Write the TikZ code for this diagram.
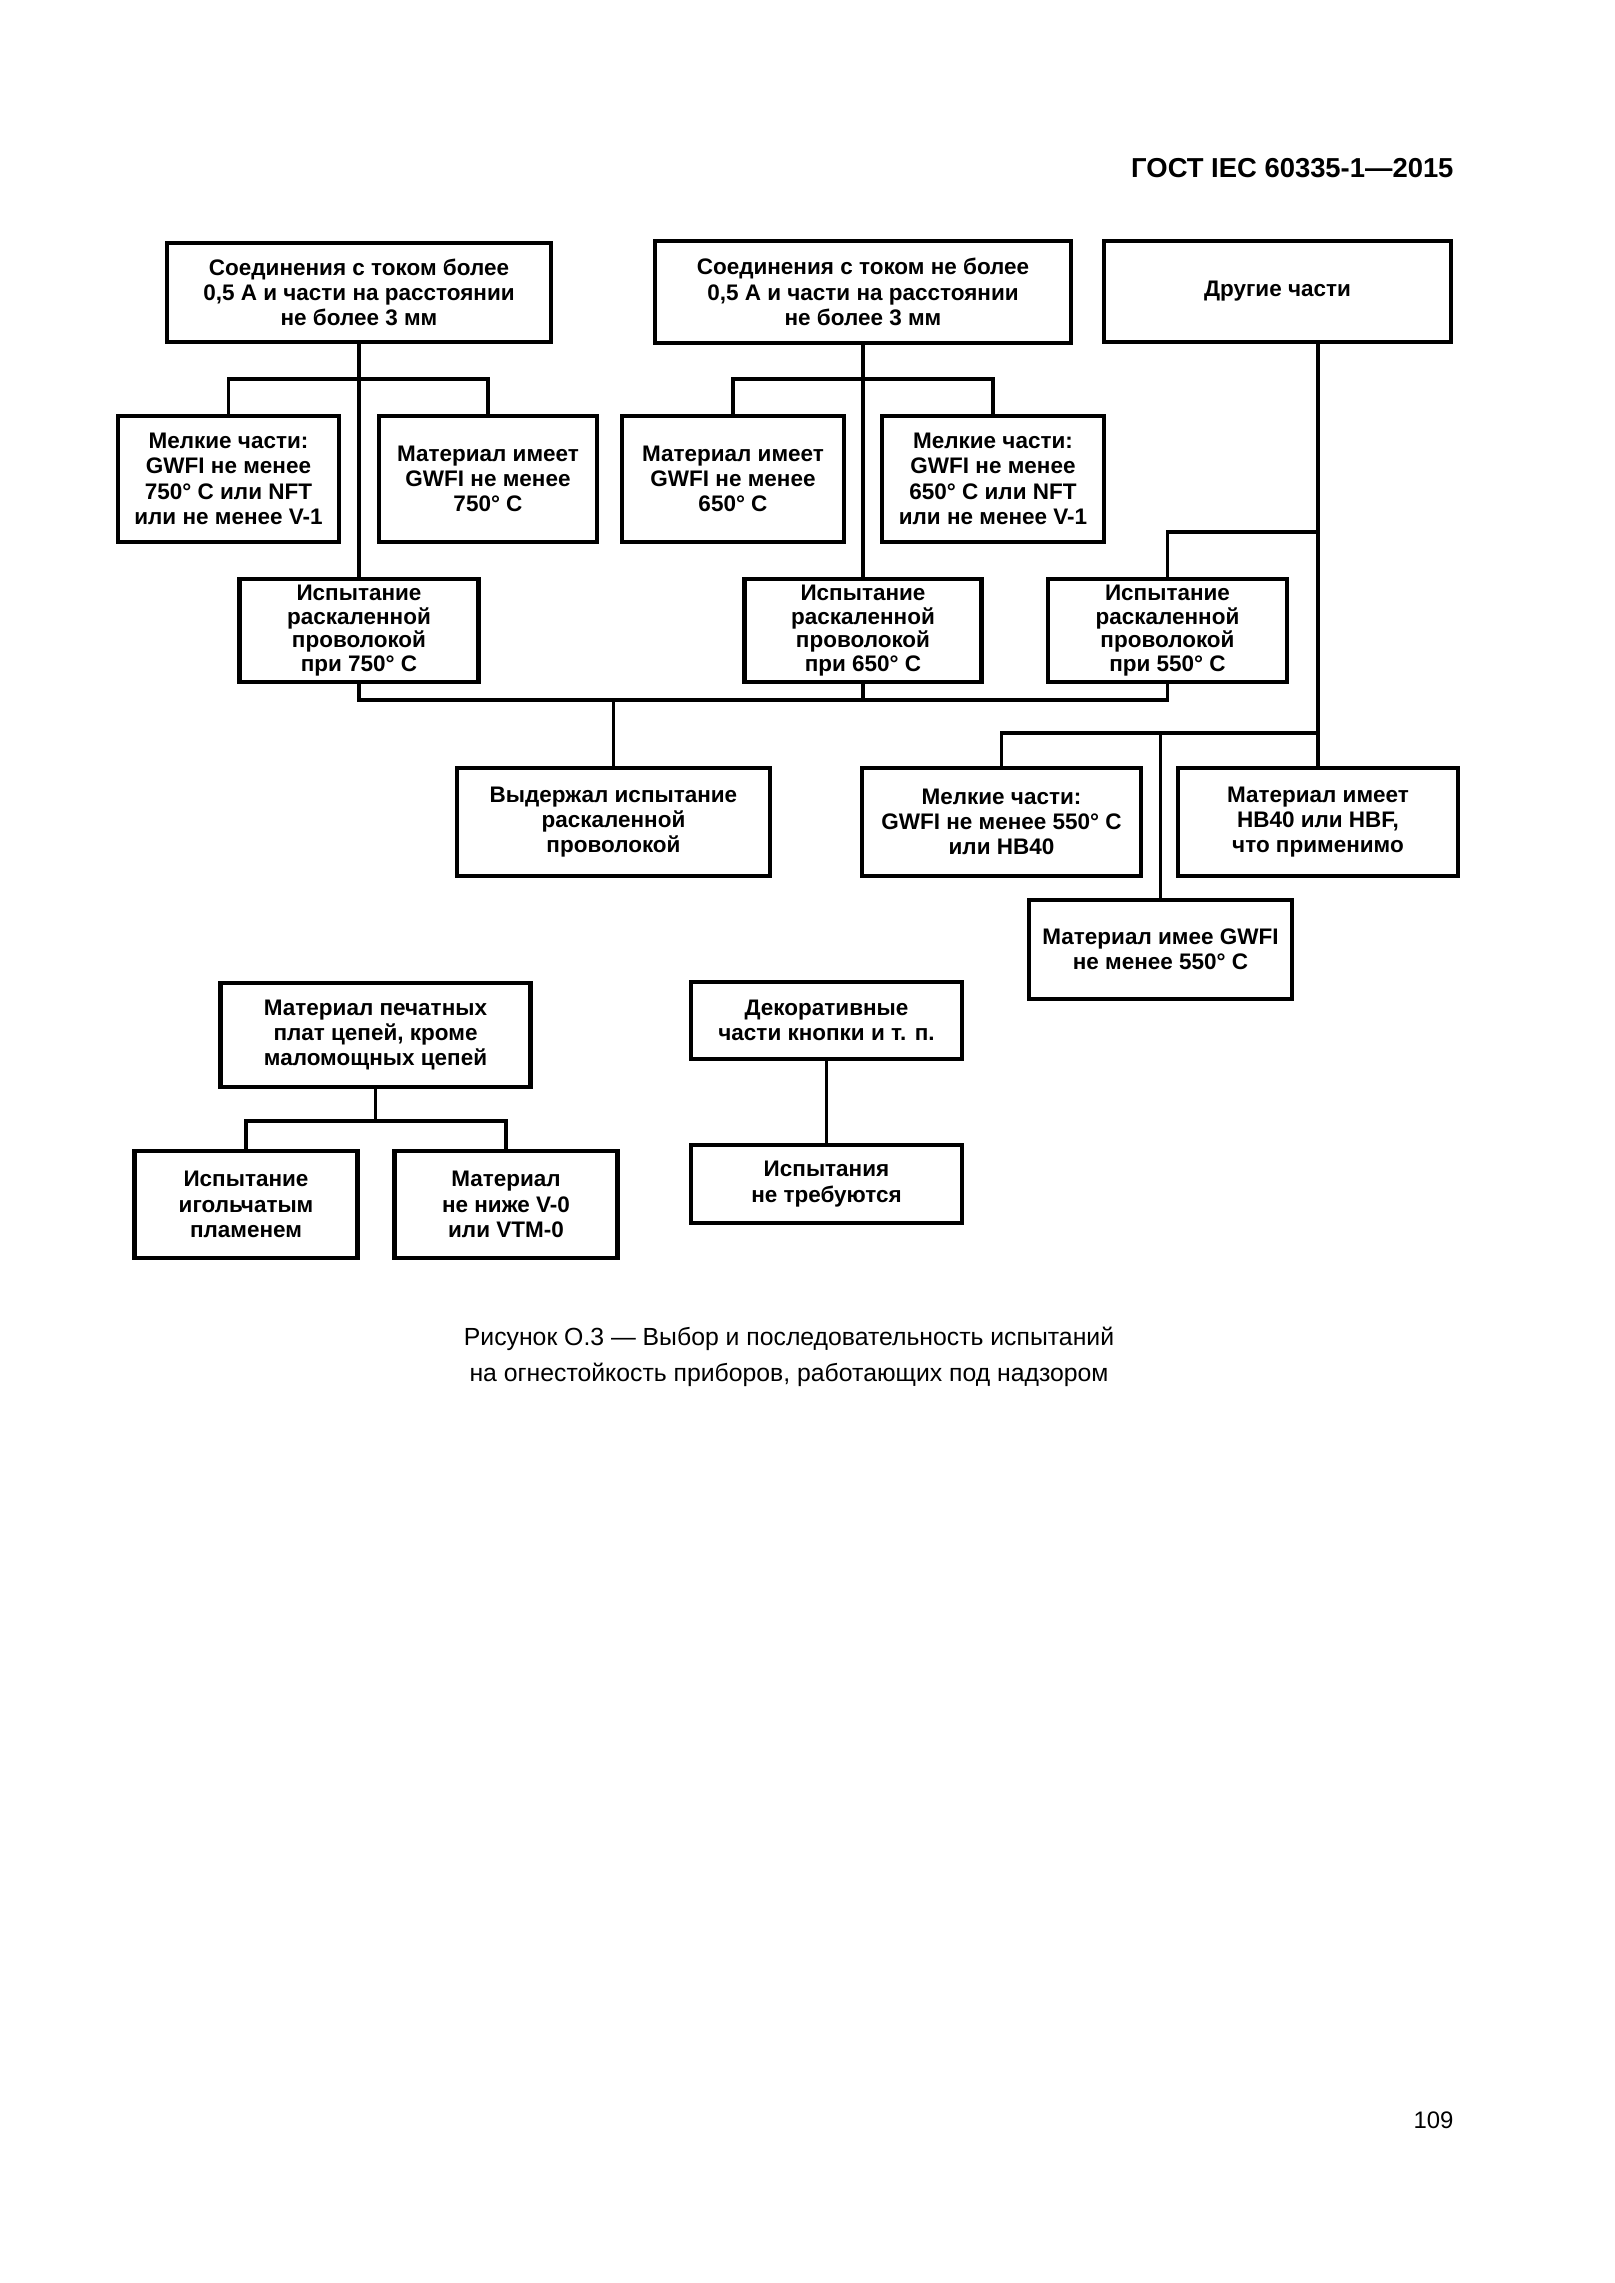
\documentclass[tikz,border=0pt]{standalone}
\usepackage{fontspec}
\setmainfont{Liberation Sans}
\begin{document}
\begin{tikzpicture}[x=0.1mm,y=-0.1mm,line width=1pt,
  box/.style={draw,line width=1.15pt,inner sep=0pt,align=center,
    font=\bfseries\fontsize{6.4}{7.2}\selectfont},
  tbox/.style={box,font=\bfseries\fontsize{6.4}{6.7}\selectfont},
  sz/.style 2 args={minimum width=#1*0.1mm,minimum height=#2*0.1mm},
  conn/.style={draw,line width=0.95pt}]
\useasboundingbox (0,0) rectangle (1614,2283);
\node[anchor=base east,font=\bfseries\fontsize{7.8}{9}\selectfont] (hdr) at (1467,177) {ГОСТ IEC 60335-1—2015};
% top row
\node[box,sz={384}{99}] (A1) at (359,292.5) {Соединения с током более\\0,5 А и части на расстоянии\\не более 3 мм};
\node[box,sz={416}{102}] (A2) at (863,292) {Соединения с током не более\\0,5 А и части на расстоянии\\не более 3 мм};
\node[box,sz={347}{101}] (A3) at (1277.5,291.5) {Другие части};
% second row
\node[box,sz={221}{126}] (B1) at (228.5,479) {Мелкие части:\\GWFI не менее\\750° C или NFT\\или не менее V-1};
\node[box,sz={218}{126}] (B2) at (488,479) {Материал имеет\\GWFI не менее\\750° C};
\node[box,sz={222}{126}] (B3) at (733,479) {Материал имеет\\GWFI не менее\\650° C};
\node[box,sz={222}{126}] (B4) at (993,479) {Мелкие части:\\GWFI не менее\\650° C или NFT\\или не менее V-1};
% third row
\node[tbox,sz={239}{103}] (C1) at (359,630.5) {Испытание\\раскаленной\\проволокой\\при 750° C};
\node[tbox,sz={237}{103}] (C2) at (863,630.5) {Испытание\\раскаленной\\проволокой\\при 650° C};
\node[tbox,sz={239}{103}] (C3) at (1167.5,630.5) {Испытание\\раскаленной\\проволокой\\при 550° C};
% fourth row
\node[box,sz={313}{108}] (D1) at (613.5,822) {Выдержал испытание\\раскаленной\\проволокой};
\node[box,sz={279}{108}] (D2) at (1001.5,822) {Мелкие части:\\GWFI не менее 550° C\\или HB40};
\node[box,sz={280}{108}] (D3) at (1318,822) {Материал имеет\\HB40 или HBF,\\что применимо};
\node[box,sz={263}{99}] (D4) at (1160.5,949.5) {Материал имее GWFI\\не менее 550° C};
% lower groups
\node[box,sz={310}{104}] (E1) at (375.5,1035) {Материал печатных\\плат цепей, кроме\\маломощных цепей};
\node[box,sz={223}{107}] (E2) at (246,1204.5) {Испытание\\игольчатым\\пламенем};
\node[box,sz={223}{107}] (E3) at (506,1204.5) {Материал\\не ниже V-0\\или VTM-0};
\node[box,sz={271}{77}] (F1) at (826.5,1020.5) {Декоративные\\части кнопки и т. п.};
\node[box,sz={271}{78}] (F2) at (826.5,1184) {Испытания\\не требуются};
% bus levels
\coordinate (bus1) at (0,379);
\coordinate (br) at (0,532);
\coordinate (busC) at (0,700);
\coordinate (busD) at (0,733);
\coordinate (busE) at (0,1121);
% connectors
\draw[conn] (A1.south) -- (C1.north);
\draw[conn] (B1.north) -- (B1.north |- bus1) -- (B2.north |- bus1) -- (B2.north);
\draw[conn] (A2.south) -- (C2.north);
\draw[conn] (B3.north) -- (B3.north |- bus1) -- (B4.north |- bus1) -- (B4.north);
\draw[conn] (A3.south -| D3.north) -- (D3.north);
\draw[conn] (C3.north) -- (C3.north |- br) -- (D3.north |- br);
\draw[conn] (C1.south) -- (C1.south |- busC) -- (C3.south |- busC) -- (C3.south);
\draw[conn] (C2.south) -- (C2.south |- busC);
\draw[conn] (D1.north |- busC) -- (D1.north);
\draw[conn] (D2.north) -- (D2.north |- busD) -- (D3.north |- busD);
\draw[conn] (D4.north |- busD) -- (D4.north);
\draw[conn] (E1.south) -- (E1.south |- busE);
\draw[conn] (E2.north) -- (E2.north |- busE) -- (E3.north |- busE) -- (E3.north);
\draw[conn] (F1.south) -- (F2.north);
% caption and page number
\node[anchor=base,font=\fontsize{7.05}{9}\selectfont] (cap1) at (789,1345) {Рисунок О.3 — Выбор и последовательность испытаний};
\node[anchor=base,font=\fontsize{7.05}{9}\selectfont] (cap2) at (789,1381) {на огнестойкость приборов, работающих под надзором};
\node[anchor=base east,font=\fontsize{6.8}{9}\selectfont] (pg) at (1467,2128) {109};
\end{tikzpicture}
\end{document}
